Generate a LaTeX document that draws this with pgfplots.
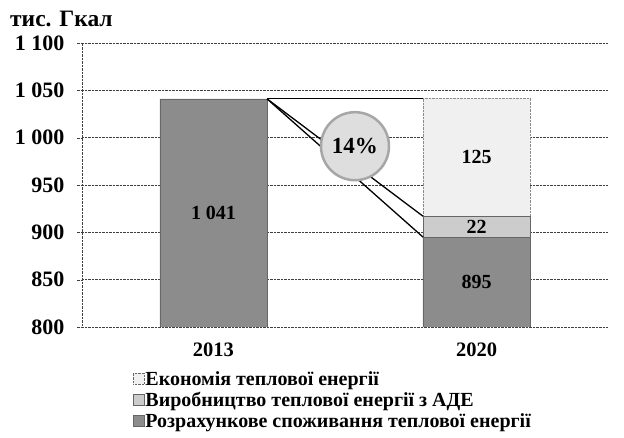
\documentclass[border=0pt]{standalone}
\usepackage{fontspec}
\setmainfont{Liberation Serif}
\usepackage{pgfplots}
\pgfplotsset{compat=1.18}
\definecolor{cdark}{gray}{0.55}
\definecolor{cmid}{gray}{0.80}
\definecolor{clight}{gray}{0.94}
\begin{document}
\begin{tikzpicture}[font=\bfseries\fontsize{20}{22}\selectfont]
\useasboundingbox (-82pt,-111pt) rectangle (542pt,327pt);
\node[anchor=west, inner sep=0pt, font=\bfseries\fontsize{23.5}{25}\selectfont] at (-72pt,308pt) {тис. Гкал};
\begin{axis}[
  at={(0pt,0pt)}, anchor=south west,
  scale only axis, width=526pt, height=284pt,
  ybar stacked, bar width=0.407,
  xmin=-0.5, xmax=1.5, ymin=800, ymax=1100,
  xtick={0,1}, xticklabels={2013,2020},
  ytick={800,850,...,1100},
  ymajorgrids, grid style={densely dotted, black!75},
  axis x line*=bottom, axis y line*=left,
  x axis line style={draw=none},
  y axis line style={densely dotted, black!75},
  xtick style={draw=none},
  ytick style={densely dotted, black!75},
  tick align=outside, major tick length=5pt,
  /pgf/number format/.cd, 1000 sep={\ }, assume math mode=true,
  /pgfplots/.cd,
  yticklabel style={font=\bfseries\fontsize{22}{24}\selectfont, xshift=-9pt},
  xticklabel style={font=\bfseries\fontsize{20.5}{22}\selectfont, yshift=-7pt},
  reverse legend,
  legend style={at={(0.097,-0.150)}, anchor=north west, draw=none, fill=none,
    inner sep=0pt, outer sep=0pt,
    font=\bfseries\fontsize{20}{22}\selectfont, row sep=0pt, column sep=0pt,
    nodes={inner xsep=1pt, inner ysep=1.5pt, text height=14pt, text depth=4pt}},
  legend image code/.code={\draw[#1, draw=black!60] (0pt,-4pt) rectangle (11pt,7pt);},
  legend cell align=left,
]
\addplot[fill=cdark, draw=black!60] coordinates {(0,1041) (1,895)};
\addlegendentry{Розрахункове споживання теплової енергії}
\addplot[fill=cmid, draw=black!60] coordinates {(0,0) (1,22)};
\addlegendentry{Виробництво теплової енергії з АДЕ}
\addplot[fill=clight, draw=black!45, densely dotted] coordinates {(0,0) (1,125)};
\addlegendentry{Економія теплової енергії}
\coordinate (s) at (axis cs:0.2035,1041);
\coordinate (e1) at (axis cs:0.7965,1041);
\coordinate (e2) at (axis cs:0.7965,917);
\coordinate (e3) at (axis cs:0.7965,895);
\coordinate (circ) at (axis cs:0.538,991);
\coordinate (l1) at (axis cs:0,920.5);
\coordinate (l2) at (axis cs:1,847.5);
\coordinate (l3) at (axis cs:1,906);
\coordinate (l4) at (axis cs:1,979.5);
\end{axis}
\draw[line width=1.3pt] (s) -- (e1);
\draw[line width=1.3pt] (s) -- (e2);
\draw[line width=1.3pt] (s) -- (e3);
\node[circle, minimum size=68pt, inner sep=0pt, fill=black!13, draw=black!35, line width=2.5pt, font=\bfseries\fontsize{23}{25}\selectfont] at (circ) {14\%};
\node at (l1) {1 041};
\node at (l2) {895};
\node at (l3) {22};
\node at (l4) {125};
\end{tikzpicture}
\end{document}
